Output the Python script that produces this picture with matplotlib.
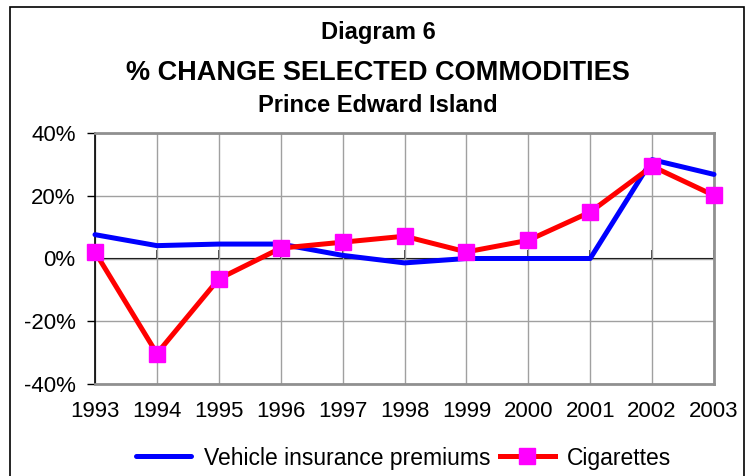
import matplotlib
matplotlib.use('Agg')
import matplotlib.pyplot as plt
from matplotlib.patches import Rectangle
from matplotlib.ticker import FuncFormatter, MultipleLocator

# ── DATA ──────────────────────────────────────────────────────────────────────
years = ["1993", "1994", "1995", "1996", "1997", "1998",
         "1999", "2000", "2001", "2002", "2003"]
vehicle_insurance = [7.6, 4.1, 4.6, 4.6, 1.0, -1.4, 0.0, 0.0, 0.0, 31.5, 26.8]
cigarettes = [2.1, -30.3, -6.5, 3.3, 5.2, 7.1, 2.1, 5.8, 14.8, 29.4, 20.1]

plt.rcParams['font.family'] = ['Liberation Sans', 'DejaVu Sans']

fig = plt.figure(figsize=(7.47, 4.76), dpi=100)
ax = fig.add_axes([95 / 747, 92 / 476, 619 / 747, 251 / 476])

x = list(range(len(years)))

# ── LINES ─────────────────────────────────────────────────────────────────────
ax.plot(x, vehicle_insurance, color='#0000ff', linewidth=3.6,
        solid_capstyle='round', label='Vehicle insurance premiums',
        clip_on=False, zorder=4)
ax.plot(x, cigarettes, color='#ff0000', linewidth=3.6, marker='s',
        markersize=11, markerfacecolor='#ff00ff', markeredgecolor='#ff00ff',
        label='Cigarettes', clip_on=False, zorder=5)

# ── AXES ──────────────────────────────────────────────────────────────────────
ax.set_xlim(0, len(years) - 1)
ax.set_ylim(-40, 40)
ax.yaxis.set_major_locator(MultipleLocator(20))
ax.yaxis.set_major_formatter(FuncFormatter(lambda v, p: f"{v:.0f}%"))
ax.set_xticks(x)
ax.set_xticklabels(years)
ax.tick_params(axis='x', length=0, pad=12, labelsize=16)
ax.tick_params(axis='y', length=6, width=1, direction='out', pad=8,
               labelsize=16, color='#000000')

ax.grid(True, color='#a0a0a0', linewidth=1)
ax.set_axisbelow(True)
for side in ['top', 'right', 'bottom']:
    ax.spines[side].set_color('#909090')
    ax.spines[side].set_linewidth(2)
ax.spines['left'].set_color('#000000')
ax.spines['left'].set_linewidth(1.2)

# category axis crossing at 0%
zero_axis = ax.secondary_xaxis(0.5)
zero_axis.set_xticks(x)
zero_axis.set_xticklabels([])
zero_axis.tick_params(length=6, width=1.2, direction='out', color='#202020')
zero_axis.spines['bottom'].set_color('#303030')
zero_axis.spines['bottom'].set_linewidth(1.2)

# ── TITLES ────────────────────────────────────────────────────────────────────
fig.text(378 / 747, 1 - 32 / 476, "Diagram 6", ha='center', va='center',
         fontsize=17, fontweight='bold')
fig.text(378 / 747, 1 - 73 / 476, "% CHANGE SELECTED COMMODITIES",
         ha='center', va='center', fontsize=19.5, fontweight='bold')
fig.text(378 / 747, 1 - 105 / 476, "Prince Edward Island", ha='center',
         va='center', fontsize=17, fontweight='bold')

# ── LEGEND ────────────────────────────────────────────────────────────────────
fig.legend(loc='center', bbox_to_anchor=(404 / 747, 1 - 458 / 476), ncol=2,
           frameon=False, fontsize=16.5, handlelength=2.4, handletextpad=0.55,
           columnspacing=0.4, borderaxespad=0, borderpad=0)

# figure border
fig.add_artist(Rectangle((10 / 747, -0.05), 734 / 747, 1.05 - 7 / 476,
                         transform=fig.transFigure, fill=False,
                         edgecolor='#000000', linewidth=1.2, clip_on=False))

fig.savefig("out.png", dpi=100)
